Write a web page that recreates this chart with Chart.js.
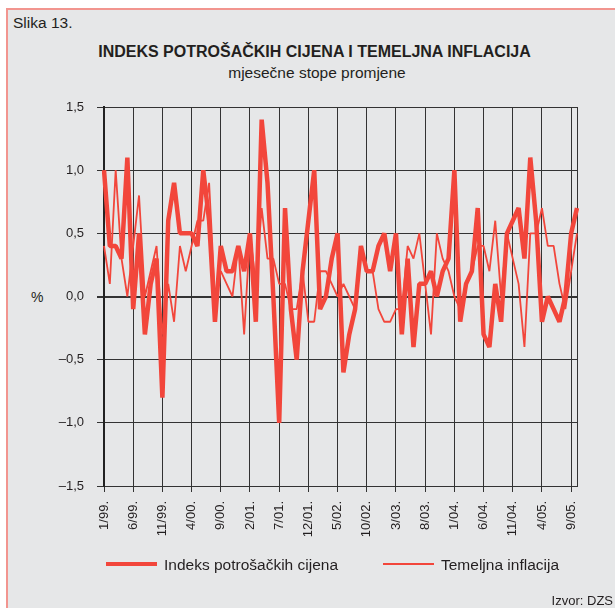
<!DOCTYPE html>
<html>
<head>
<meta charset="utf-8">
<script src="https://cdn.jsdelivr.net/npm/chart.js@4.4.1/dist/chart.umd.min.js"></script>
<style>
body { margin: 0; background: #fff; font-family: 'Liberation Sans', Arial, sans-serif; color: #231f20; }
#frame { position: absolute; left: 6px; top: 8px; width: 609px; height: 600px; background: #e6e7e8;
         border-left: 2px solid #f2958f; border-top: 2px solid #f2958f; }
#chart { position: absolute; left: 0; top: 0; }
.txt { position: absolute; white-space: nowrap; }
.swatch { position: absolute; background: #f2463b; }
</style>
</head>
<body>
<div id="frame"></div>
<div class="txt" style="left:13px; top:14px; font-size:15.5px; line-height:18px;">Slika 13.</div>
<div class="txt" style="left:0; width:629px; text-align:center; top:43px; font-size:16px; line-height:18px; font-weight:bold;">INDEKS POTROŠAČKIH CIJENA I TEMELJNA INFLACIJA</div>
<div class="txt" style="left:0; width:634px; text-align:center; top:64px; font-size:15.5px; line-height:18px;">mjesečne stope promjene</div>
<div class="txt" style="left:31px; top:288px; font-size:14px; line-height:18px;">%</div>
<canvas id="chart" width="615" height="608"></canvas>
<div class="swatch" style="left:106px; top:562px; width:51px; height:4px;"></div>
<div class="txt" style="left:164px; top:556px; font-size:15.5px; line-height:18px;">Indeks potrošačkih cijena</div>
<div class="swatch" style="left:383px; top:563px; width:51px; height:2px;"></div>
<div class="txt" style="left:441px; top:556px; font-size:15.5px; line-height:18px;">Temeljna inflacija</div>
<div class="txt" style="right:2px; top:593px; font-size:13px; line-height:16px;">Izvor: DZS</div>

<script>
// mjeseci 1/99. - 10/05.
var months = [
    '1/99.', '2/99.', '3/99.', '4/99.', '5/99.', '6/99.', '7/99.', '8/99.', '9/99.', '10/99.', '11/99.', '12/99.',
    '1/00.', '2/00.', '3/00.', '4/00.', '5/00.', '6/00.', '7/00.', '8/00.', '9/00.', '10/00.', '11/00.', '12/00.',
    '1/01.', '2/01.', '3/01.', '4/01.', '5/01.', '6/01.', '7/01.', '8/01.', '9/01.', '10/01.', '11/01.', '12/01.',
    '1/02.', '2/02.', '3/02.', '4/02.', '5/02.', '6/02.', '7/02.', '8/02.', '9/02.', '10/02.', '11/02.', '12/02.',
    '1/03.', '2/03.', '3/03.', '4/03.', '5/03.', '6/03.', '7/03.', '8/03.', '9/03.', '10/03.', '11/03.', '12/03.',
    '1/04.', '2/04.', '3/04.', '4/04.', '5/04.', '6/04.', '7/04.', '8/04.', '9/04.', '10/04.', '11/04.', '12/04.',
    '1/05.', '2/05.', '3/05.', '4/05.', '5/05.', '6/05.', '7/05.', '8/05.', '9/05.', '10/05.'
];
var tickLabels = ['1/99.', '6/99.', '11/99.', '4/00.', '9/00.', '2/01.', '7/01.', '12/01.', '5/02.',
    '10/02.', '3/03.', '8/03.', '1/04.', '6/04.', '11/04.', '4/05.', '9/05.'];
var yTicks = [-1.5, -1, -0.5, 0, 0.5, 1, 1.5];

// indeks potrosackih cijena
var cpi = [
    1.0, 0.4, 0.4, 0.3, 1.1, -0.1, 0.5, -0.3, 0.1, 0.3, -0.8, 0.6,
    0.9, 0.5, 0.5, 0.5, 0.4, 1.0, 0.6, -0.2, 0.4, 0.2, 0.2, 0.4,
    0.2, 0.5, -0.2, 1.4, 0.9, 0.0, -1.0, 0.7, -0.1, -0.5, 0.2, 0.6,
    1.0, -0.1, 0.0, 0.3, 0.5, -0.6, -0.3, -0.1, 0.4, 0.2, 0.2, 0.4,
    0.5, 0.2, 0.5, -0.3, 0.3, -0.4, 0.1, 0.1, 0.2, 0.0, 0.2, 0.3,
    1.0, -0.2, 0.1, 0.2, 0.7, -0.3, -0.4, 0.1, -0.2, 0.5, 0.6, 0.7,
    0.3, 1.1, 0.6, -0.2, 0.0, -0.1, -0.2, 0.0, 0.5, 0.7
];
// temeljna inflacija
var core = [
    0.4, 0.1, 1.0, 0.3, 0.0, 0.4, 0.8, 0.0, 0.2, 0.4, -0.3, 0.1,
    -0.2, 0.4, 0.2, 0.4, 0.6, 0.6, 0.9, 0.0, 0.2, 0.1, 0.0, 0.4,
    -0.3, 0.5, 0.1, 0.7, 0.3, 0.3, 0.1, 0.1, -0.1, -0.1, 0.2, -0.2,
    -0.2, 0.2, 0.2, 0.1, 0.0, 0.1, 0.0, -0.1, 0.4, 0.2, 0.2, -0.1,
    -0.2, -0.2, -0.1, -0.1, 0.4, 0.3, 0.5, 0.1, -0.3, 0.5, 0.3, 0.2,
    0.0, -0.1, 0.1, 0.2, 0.4, 0.4, 0.2, 0.6, 0.0, 0.5, 0.3, 0.1,
    -0.4, 0.5, 0.5, 0.7, 0.4, 0.4, 0.1, -0.1, 0.2, 0.5
];

var lineRed = '#f2463b';
var gridCol = '#333333';
var fontTick = { family: "'Liberation Sans', Arial, sans-serif", size: 13 };

function isTick(i) {
    return tickLabels.indexOf(months[i]) >= 0;
}

var ctx = document.getElementById('chart');
var chart = new Chart(ctx, {
    type: 'line',
    data: {
        labels: months,
        datasets: [{
            label: 'Indeks potrošačkih cijena',
            data: cpi,
            borderColor: lineRed,
            borderWidth: 4.5,
            borderJoinStyle: 'bevel',
            pointRadius: 0,
            tension: 0,
            fill: false
        }, {
            label: 'Temeljna inflacija',
            data: core,
            borderColor: lineRed,
            borderWidth: 1.8,
            borderJoinStyle: 'bevel',
            pointRadius: 0,
            tension: 0,
            fill: false
        }]
    },
    options: {
        responsive: false,
        animation: false,
        devicePixelRatio: 1,
        layout: {
            padding: { left: 44, right: 38, top: 107, bottom: 62 }
        },
        scales: {
            x: {
                offset: false,
                afterFit: function (scale) { scale.height = 60; },
                ticks: {
                    autoSkip: false,
                    minRotation: 90,
                    maxRotation: 90,
                    padding: 9,
                    color: '#231f20',
                    font: fontTick,
                    callback: function (value, index) {
                        return isTick(index) ? months[index] : '';
                    }
                },
                grid: {
                    color: function (c) {
                        return (isTick(c.index) || c.index === months.length - 1) ? gridCol : 'rgba(0,0,0,0)';
                    },
                    tickColor: function (c) {
                        return isTick(c.index) ? gridCol : 'rgba(0,0,0,0)';
                    },
                    tickLength: 6,
                    lineWidth: 1
                },
                border: { display: true, color: gridCol, width: 1 }
            },
            y: {
                min: -1.5,
                max: 1.5,
                afterFit: function (scale) { scale.width = 60; },
                afterBuildTicks: function (scale) {
                    scale.ticks = yTicks.map(function (v) { return { value: v }; });
                },
                ticks: {
                    padding: 13,
                    color: '#231f20',
                    font: fontTick,
                    callback: function (value) {
                        var s = Math.abs(value).toFixed(1).replace('.', ',');
                        return value < 0 ? '–' + s : s;
                    }
                },
                grid: {
                    color: gridCol,
                    tickColor: gridCol,
                    tickLength: 7,
                    lineWidth: function (c) { return c.tick && c.tick.value === 0 ? 2 : 1; }
                },
                border: { display: true, color: '#222222', width: 2 }
            }
        },
        plugins: {
            legend: { display: false },
            tooltip: { enabled: false }
        }
    }
});
</script>
</body>
</html>
